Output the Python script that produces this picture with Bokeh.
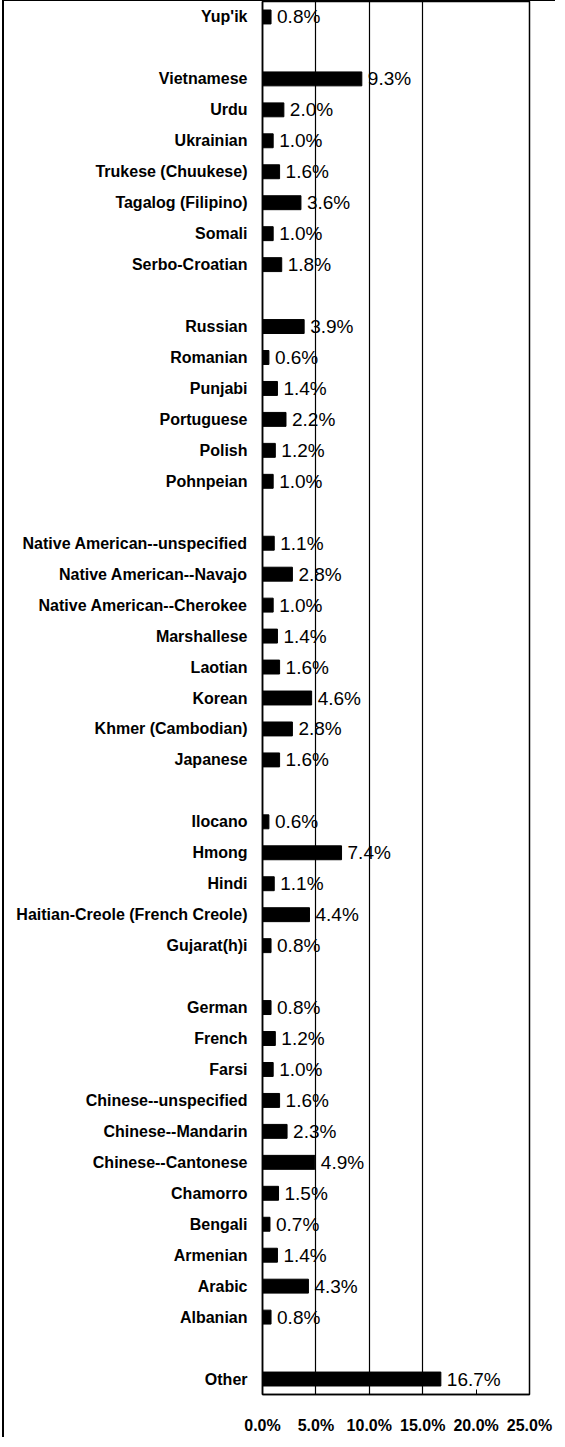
from bokeh.plotting import figure
from bokeh.models import FactorRange, Range1d, FixedTicker, ColumnDataSource
from bokeh.core.properties import value
from bokeh.embed import file_html
from bokeh.resources import INLINE

# ---- data (top to bottom) ----
languages = [
    "Yup'ik",
    "Vietnamese", "Urdu", "Ukrainian", "Trukese (Chuukese)", "Tagalog (Filipino)",
    "Somali", "Serbo-Croatian",
    "Russian", "Romanian", "Punjabi", "Portuguese", "Polish", "Pohnpeian",
    "Native American--unspecified", "Native American--Navajo",
    "Native American--Cherokee", "Marshallese", "Laotian", "Korean",
    "Khmer (Cambodian)", "Japanese",
    "Ilocano", "Hmong", "Hindi", "Haitian-Creole (French Creole)", "Gujarat(h)i",
    "German", "French", "Farsi", "Chinese--unspecified", "Chinese--Mandarin",
    "Chinese--Cantonese", "Chamorro", "Bengali", "Armenian", "Arabic", "Albanian",
    "Other",
]
percent = [
    0.8,
    9.3, 2.0, 1.0, 1.6, 3.6, 1.0, 1.8,
    3.9, 0.6, 1.4, 2.2, 1.2, 1.0,
    1.1, 2.8, 1.0, 1.4, 1.6, 4.6, 2.8, 1.6,
    0.6, 7.4, 1.1, 4.4, 0.8,
    0.8, 1.2, 1.0, 1.6, 2.3, 4.9, 1.5, 0.7, 1.4, 4.3, 0.8,
    16.7,
]
# an empty row follows each of these
gap_after = ["Yup'ik", "Serbo-Croatian", "Pohnpeian", "Japanese", "Gujarat(h)i", "Albanian"]
x_ticks = [0, 5, 10, 15, 20, 25]
x_tick_labels = ["0.0%", "5.0%", "10.0%", "15.0%", "20.0%", "25.0%"]
grid_ticks = [5, 10, 15]

# ---- factor list with blank rows ----
factors = []
k = 1
for name in languages:
    factors.append(name)
    if name in gap_after:
        factors.append(" " * k)
        k += 1
factors = factors[::-1]  # bokeh draws first factor at bottom

src = ColumnDataSource(dict(
    lang=languages,
    pct=percent,
    lbl=[f"{v:.1f}%" for v in percent],
))

FONT = "Liberation Sans"

p = figure(
    width=553, height=1437,
    y_range=FactorRange(factors=factors, range_padding=0),
    x_range=Range1d(0, 25),
    output_backend="svg", toolbar_location=None,
    min_border_left=258, min_border_right=28,
    min_border_top=0, min_border_bottom=44,
)
p.styles = {"margin-left": "2px", "border-left": "2px solid black",
            "border-top": "1px solid black"}
p.background_fill_color = "white"
p.border_fill_color = "white"
p.outline_line_color = "black"
p.outline_line_width = 1.5

p.hbar(y="lang", right="pct", left=0, height=0.45, source=src,
       fill_color="black", line_color="black")
p.text(x="pct", y="lang", text="lbl", source=src, x_offset=6,
       text_baseline="middle", text_align="left",
       text_font=value(FONT), text_font_size="19px", text_color="black")

# axes
p.xaxis.ticker = FixedTicker(ticks=x_ticks)
p.xaxis.major_label_overrides = {t: l for t, l in zip(x_ticks, x_tick_labels)}
p.xaxis.major_tick_in = 5
p.xaxis.major_tick_out = 0
p.xaxis.minor_tick_line_color = None
p.xaxis.axis_line_color = "black"
p.xaxis.axis_line_width = 1.5
p.xaxis.major_label_standoff = 22
p.xaxis.major_label_text_font = FONT
p.xaxis.major_label_text_font_style = "bold"
p.xaxis.major_label_text_font_size = "16px"
p.xaxis.major_label_text_color = "black"

p.yaxis.major_tick_line_color = None
p.yaxis.minor_tick_line_color = None
p.yaxis.axis_line_color = "black"
p.yaxis.axis_line_width = 1.5
p.yaxis.major_label_standoff = 9
p.yaxis.major_label_text_font = FONT
p.yaxis.major_label_text_font_style = "bold"
p.yaxis.major_label_text_font_size = "16px"
p.yaxis.major_label_text_color = "black"

p.ygrid.grid_line_color = None
p.xgrid.ticker = FixedTicker(ticks=grid_ticks)
p.xgrid.grid_line_color = "black"
p.xgrid.grid_line_width = 1.2

open("out.html", "w").write(file_html(p, INLINE))
